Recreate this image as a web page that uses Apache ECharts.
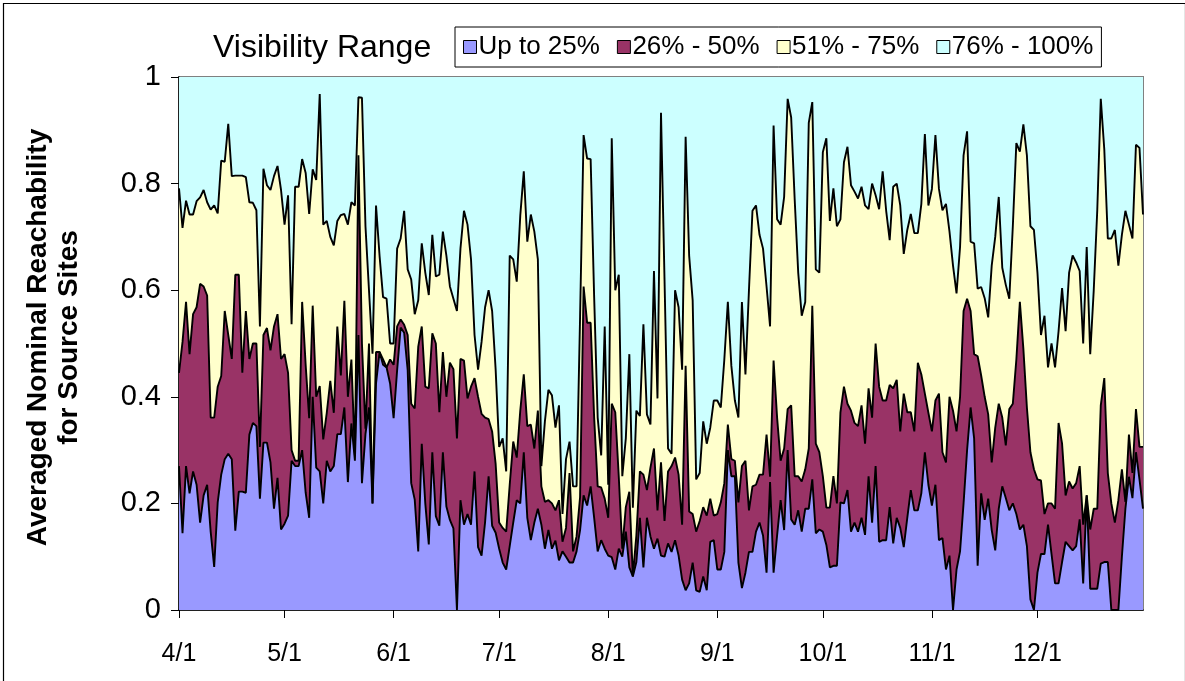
<!DOCTYPE html>
<html>
<head>
<meta charset="utf-8">
<script src="https://cdn.jsdelivr.net/npm/echarts@6/dist/echarts.min.js"></script>
<style>
  html, body { margin: 0; padding: 0; background: #fff; }
  #chart { width: 1185px; height: 681px; }
</style>
</head>
<body>
<div id="chart"></div>
<script>
// Month labels (first day of each month gets an axis label)
const months = ['4', '5', '6', '7', '8', '9', '10', '11', '12'];
const monthLengths = [30, 31, 30, 31, 31, 30, 31, 30, 31];
const seriesNames = ['Up to 25%', '26% - 50%', '51% - 75%', '76% - 100%'];
const seriesColors = ['#9999FF', '#993366', '#FFFFCC', '#CCFFFF'];

// Cumulative boundary of the "Up to 25%" band (daily, 4/1 .. 12/31)
const upTo25 = [
  0.27,0.144,0.27,0.219,0.26,0.235,0.164,0.215,0.235,0.147,0.081,0.202,0.254,0.283,0.293,0.283,0.149,0.222,0.222,0.22,0.329,0.351,0.345,0.209,0.314,0.314,0.277,0.19,0.248,0.151,
  0.162,0.177,0.28,0.27,0.27,0.30,0.22,0.173,0.40,0.267,0.26,0.20,0.28,0.26,0.27,0.33,0.33,0.38,0.24,0.35,0.28,0.516,0.238,0.33,0.38,0.20,0.425,0.484,0.46,0.455,0.425,
  0.36,0.45,0.53,0.52,0.45,0.238,0.207,0.11,0.312,0.2,0.123,0.296,0.176,0.158,0.296,0.194,0.169,0.153,0.0,0.206,0.16,0.18,0.16,0.26,0.118,0.102,0.165,0.251,0.158,0.145,
  0.115,0.089,0.076,0.12,0.164,0.206,0.2,0.296,0.173,0.131,0.164,0.19,0.16,0.115,0.15,0.115,0.13,0.093,0.11,0.1,0.089,0.089,0.11,0.15,0.215,0.196,0.232,0.173,0.11,0.131,0.115,
  0.102,0.099,0.076,0.115,0.1,0.147,0.08,0.063,0.09,0.173,0.08,0.173,0.138,0.115,0.134,0.102,0.1,0.125,0.109,0.131,0.102,0.057,0.037,0.05,0.089,0.037,0.034,0.063,0.037,0.128,0.131,
  0.076,0.076,0.109,0.30,0.251,0.251,0.089,0.041,0.07,0.109,0.109,0.147,0.164,0.14,0.07,0.24,0.07,0.14,0.206,0.15,0.3,0.17,0.16,0.187,0.147,0.19,0.19,0.245,0.144,0.151,
  0.147,0.122,0.08,0.083,0.083,0.202,0.2,0.225,0.147,0.164,0.147,0.173,0.141,0.251,0.164,0.27,0.128,0.131,0.131,0.193,0.125,0.173,0.154,0.118,0.173,0.225,0.187,0.187,0.219,0.296,0.235,
  0.196,0.235,0.131,0.135,0.076,0.102,0.0,0.076,0.11,0.2,0.3,0.38,0.322,0.083,0.219,0.169,0.209,0.15,0.112,0.19,0.232,0.21,0.187,0.2,0.18,0.151,0.16,0.12,0.02,0.0,
  0.07,0.105,0.105,0.16,0.105,0.05,0.05,0.09,0.128,0.12,0.112,0.12,0.17,0.05,0.215,0.04,0.04,0.04,0.087,0.09,0.09,0.0,0.0,0.0,0.1,0.19,0.25,0.21,0.296,0.245,0.19
];

// Cumulative boundary up to 50%
const upTo50 = [
  0.445,0.503,0.578,0.48,0.555,0.568,0.612,0.607,0.59,0.361,0.361,0.419,0.439,0.561,0.516,0.471,0.629,0.629,0.445,0.561,0.471,0.5,0.5,0.306,0.516,0.529,0.487,0.532,0.555,0.471,
  0.48,0.445,0.30,0.28,0.28,0.578,0.46,0.36,0.571,0.40,0.42,0.32,0.37,0.43,0.37,0.532,0.44,0.58,0.40,0.47,0.29,0.853,0.50,0.34,0.50,0.20,0.484,0.484,0.47,0.455,0.47,
  0.46,0.532,0.545,0.535,0.516,0.387,0.378,0.494,0.532,0.419,0.416,0.519,0.5,0.371,0.484,0.4,0.464,0.452,0.322,0.471,0.468,0.397,0.419,0.435,0.4,0.368,0.361,0.358,0.335,0.274,
  0.164,0.154,0.147,0.235,0.316,0.286,0.374,0.442,0.345,0.348,0.303,0.374,0.232,0.203,0.206,0.2,0.187,0.206,0.128,0.154,0.257,0.11,0.138,0.212,0.607,0.539,0.539,0.361,0.232,0.23,0.209,
  0.173,0.387,0.371,0.25,0.115,0.193,0.222,0.063,0.14,0.26,0.254,0.225,0.267,0.303,0.187,0.277,0.167,0.26,0.27,0.286,0.254,0.16,0.458,0.185,0.18,0.147,0.167,0.193,0.177,0.209,0.177,
  0.18,0.202,0.238,0.348,0.283,0.28,0.202,0.27,0.28,0.187,0.232,0.235,0.254,0.254,0.329,0.25,0.468,0.361,0.28,0.303,0.377,0.384,0.251,0.251,0.241,0.264,0.303,0.571,0.312,0.296,
  0.251,0.192,0.192,0.251,0.2,0.371,0.419,0.387,0.374,0.351,0.345,0.384,0.312,0.416,0.361,0.5,0.419,0.393,0.393,0.422,0.416,0.432,0.335,0.406,0.371,0.371,0.335,0.464,0.442,0.406,0.37,
  0.335,0.393,0.406,0.296,0.277,0.4,0.374,0.335,0.40,0.561,0.584,0.561,0.48,0.476,0.44,0.4,0.367,0.277,0.342,0.387,0.361,0.309,0.377,0.387,0.47,0.578,0.49,0.38,0.296,0.264,
  0.245,0.243,0.18,0.2,0.2,0.19,0.351,0.312,0.215,0.241,0.228,0.238,0.27,0.16,0.215,0.151,0.19,0.19,0.384,0.435,0.257,0.2,0.164,0.206,0.264,0.203,0.329,0.257,0.377,0.306,0.306
];

// Cumulative boundary up to 75%
const upTo75 = [
  0.791,0.717,0.768,0.742,0.742,0.767,0.774,0.788,0.765,0.751,0.759,0.744,0.843,0.841,0.912,0.814,0.815,0.815,0.815,0.812,0.765,0.764,0.750,0.532,0.828,0.797,0.788,0.814,0.833,0.788,
  0.723,0.778,0.536,0.794,0.794,0.846,0.820,0.743,0.827,0.807,0.968,0.723,0.730,0.700,0.684,0.730,0.741,0.743,0.723,0.765,0.759,0.962,0.961,0.72,0.60,0.481,0.759,0.665,0.587,0.584,0.5,
  0.5,0.678,0.697,0.749,0.639,0.62,0.555,0.581,0.688,0.633,0.591,0.704,0.626,0.629,0.71,0.665,0.607,0.584,0.561,0.678,0.749,0.723,0.658,0.516,0.451,0.503,0.568,0.6,0.561,0.451,
  0.306,0.322,0.26,0.665,0.658,0.616,0.74,0.823,0.691,0.742,0.71,0.658,0.27,0.354,0.413,0.403,0.342,0.384,0.18,0.283,0.316,0.232,0.232,0.55,0.891,0.847,0.846,0.587,0.361,0.29,0.532,
  0.235,0.885,0.6,0.629,0.251,0.322,0.48,0.192,0.374,0.364,0.536,0.367,0.348,0.636,0.397,0.933,0.62,0.303,0.293,0.6,0.568,0.451,0.888,0.665,0.581,0.245,0.257,0.354,0.312,0.342,0.393,
  0.393,0.38,0.47,0.578,0.458,0.393,0.361,0.578,0.442,0.6,0.749,0.759,0.704,0.678,0.607,0.532,0.909,0.733,0.723,0.775,0.959,0.924,0.77,0.633,0.552,0.578,0.914,0.953,0.639,0.633,
  0.859,0.885,0.73,0.791,0.72,0.733,0.84,0.869,0.797,0.785,0.772,0.794,0.759,0.752,0.8,0.778,0.752,0.823,0.749,0.694,0.794,0.8,0.759,0.668,0.713,0.743,0.707,0.707,0.762,0.893,0.759,
  0.79,0.891,0.79,0.75,0.762,0.71,0.646,0.594,0.681,0.853,0.898,0.691,0.688,0.603,0.606,0.585,0.549,0.646,0.70,0.775,0.642,0.61,0.584,0.72,0.876,0.86,0.911,0.853,0.72,0.713,
  0.633,0.516,0.552,0.455,0.5,0.455,0.523,0.604,0.523,0.633,0.665,0.652,0.636,0.5,0.681,0.48,0.60,0.75,0.959,0.864,0.697,0.697,0.713,0.646,0.704,0.749,0.723,0.697,0.873,0.867,0.742
];
const upTo100 = 1; // all sites are covered at the top of the stack

// Category labels m/d
const categories = [];
months.forEach((m, i) => {
  for (let d = 1; d <= monthLengths[i]; d++) categories.push(m + '/' + d);
});

// Band widths for stacking, derived from the cumulative boundaries
const band = (hi, lo) => hi.map((v, i) => +Math.max(0, v - (lo ? lo[i] : 0)).toFixed(3));
const bands = [
  band(upTo25, null),
  band(upTo50, upTo25),
  band(upTo75, upTo50),
  upTo75.map(v => +(upTo100 - v).toFixed(3))
];

const FONT = 'Liberation Sans, Arial, sans-serif';
const isMonthStart = (idx, val) => String(val).split('/')[1] === '1';

const chart = echarts.init(document.getElementById('chart'), null, { renderer: 'canvas' });
chart.setOption({
  animation: false,
  backgroundColor: '#ffffff',
  title: {
    text: 'Visibility Range',
    left: 208, top: 27,
    textStyle: { fontFamily: FONT, fontSize: 32, fontWeight: 'normal', color: '#000' }
  },
  legend: {
    data: seriesNames.map((n, i) => ({ name: n, itemStyle: { color: seriesColors[i], borderColor: '#000', borderWidth: 1 } })),
    left: 455, top: 27,
    icon: 'rect',
    itemWidth: 13, itemHeight: 13, itemGap: 17,
    padding: [7, 8, 7, 8],
    borderColor: '#000', borderWidth: 1, backgroundColor: '#fff',
    textStyle: { fontFamily: FONT, fontSize: 26, color: '#000', padding: [0, 0, 0, -3] }
  },
  grid: {
    left: 179, right: 42, top: 77, bottom: 71,
    show: true, backgroundColor: '#CCFFFF', borderColor: '#808080', borderWidth: 2,
    containLabel: false
  },
  xAxis: {
    type: 'category',
    data: categories,
    boundaryGap: false,
    axisLine: { lineStyle: { color: '#000', width: 1.5 } },
    axisTick: { show: true, interval: isMonthStart, length: 8, lineStyle: { color: '#000' } },
    axisLabel: { interval: isMonthStart, margin: 32, fontFamily: FONT, fontSize: 25, color: '#000' },
    splitLine: { show: false }
  },
  yAxis: {
    type: 'value',
    min: 0, max: 1, interval: 0.2,
    name: 'Averaged Nominal Reachability\nfor Source Sites',
    nameLocation: 'middle', nameRotate: 90, nameGap: 94,
    nameTextStyle: { fontFamily: FONT, fontSize: 28, fontWeight: 'bold', color: '#000', lineHeight: 31, padding: [0, 0, 0, 12] },
    axisLine: { show: true, lineStyle: { color: '#000', width: 1.5 } },
    axisTick: { show: true, length: 8, lineStyle: { color: '#000' } },
    axisLabel: { margin: 18, fontFamily: FONT, fontSize: 29, color: '#000' },
    splitLine: { show: false }
  },
  series: seriesNames.map((n, i) => ({
    name: n,
    type: 'line',
    stack: 'total',
    data: bands[i],
    symbol: 'none',
    smooth: false,
    color: seriesColors[i],
    itemStyle: { color: seriesColors[i] },
    lineStyle: { color: '#000', width: i === 3 ? 0 : 1.9 },
    areaStyle: { color: seriesColors[i], opacity: 1 },
    z: 2
  })),
  graphic: [{
    type: 'rect', left: 1, top: 1, silent: true,
    shape: { width: 1182, height: 678 },
    style: { fill: 'none', stroke: '#000', lineWidth: 1.2 }
  }]
});
</script>
</body>
</html>
